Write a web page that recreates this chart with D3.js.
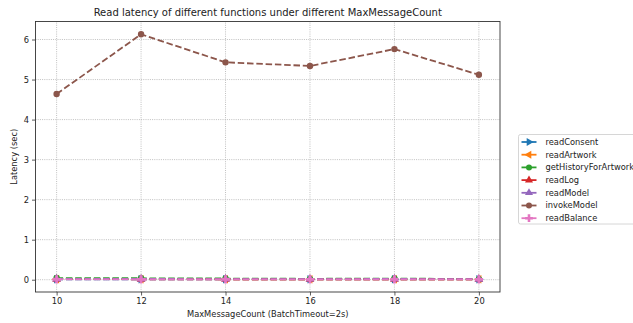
<!DOCTYPE html>
<html>
<head>
<meta charset="utf-8">
<script src="https://cdn.jsdelivr.net/npm/d3@7"></script>
<style>
  body { margin: 0; background: #fff; }
  text { font-family: "DejaVu Sans", sans-serif; fill: #222; }
</style>
</head>
<body>
<div id="chart"></div>
<script>
// data
var batchSizes = [10, 12, 14, 16, 18, 20];
var seriesNames = ["readConsent", "readArtwork", "getHistoryForArtwork", "readLog", "readModel", "invokeModel", "readBalance"];
var readConsent = [0.012, 0.011, 0.010, 0.010, 0.011, 0.010];
var readArtwork = [0.014, 0.013, 0.012, 0.011, 0.012, 0.011];
var getHistoryForArtwork = [0.042, 0.036, 0.030, 0.022, 0.030, 0.014];
var readLog = [0.013, 0.012, 0.011, 0.010, 0.012, 0.010];
var readModel = [0.020, 0.018, 0.016, 0.015, 0.018, 0.014];
var invokeModel = [4.64, 6.13, 5.43, 5.34, 5.76, 5.12];
var readBalance = [0.010, 0.010, 0.009, 0.009, 0.010, 0.009];
var yTicks = [0, 1, 2, 3, 4, 5, 6];

var colours = ["#1f77b4", "#ff7f0e", "#2ca02c", "#d62728", "#9467bd", "#8c564b", "#e377c2"];
var markers = ["right", "left", "circle", "up", "up", "circle", "plus"];
var allValues = [readConsent, readArtwork, getHistoryForArtwork, readLog, readModel, invokeModel, readBalance];

var width = 633, height = 323;
var margin = {left: 35.5, right: 133, top: 21.5, bottom: 31};

var svg = d3.select("#chart").append("svg")
  .attr("width", width).attr("height", height);

var x = d3.scaleLinear().domain([9.5, 20.5]).range([margin.left, width - margin.right]);
var y = d3.scaleLinear().domain([-0.307, 6.45]).range([height - margin.bottom, margin.top]);

// grid
svg.append("g").selectAll("line").data(batchSizes).enter().append("line")
  .attr("x1", function(d) { return x(d); }).attr("x2", function(d) { return x(d); })
  .attr("y1", y.range()[0]).attr("y2", y.range()[1])
  .attr("stroke", "#b0b0b0").attr("stroke-width", 0.8).attr("stroke-dasharray", "1,1.2");
svg.append("g").selectAll("line").data(yTicks).enter().append("line")
  .attr("y1", function(d) { return y(d); }).attr("y2", function(d) { return y(d); })
  .attr("x1", x.range()[0]).attr("x2", x.range()[1])
  .attr("stroke", "#b0b0b0").attr("stroke-width", 0.8).attr("stroke-dasharray", "1,1.2");

// axes
var xAxis = svg.append("g").attr("transform", "translate(0," + (height - margin.bottom) + ")")
  .call(d3.axisBottom(x).tickValues(batchSizes).tickFormat(d3.format("d")).tickSize(3.5).tickPadding(3));
var yAxis = svg.append("g").attr("transform", "translate(" + margin.left + ",0)")
  .call(d3.axisLeft(y).tickValues(yTicks).tickFormat(d3.format("d")).tickSize(3.5).tickPadding(3));
[xAxis, yAxis].forEach(function(a) {
  a.select(".domain").remove();
  a.selectAll("line").attr("stroke", "#333").attr("stroke-width", 0.8);
  a.selectAll("text").style("font-size", "8.3px").attr("fill", "#222");
});

// frame
svg.append("rect")
  .attr("x", x.range()[0]).attr("y", y.range()[1])
  .attr("width", x.range()[1] - x.range()[0]).attr("height", y.range()[0] - y.range()[1])
  .attr("fill", "none").attr("stroke", "#333").attr("stroke-width", 0.9);

function markerPath(kind, size) {
  if (kind == "circle") return d3.symbol(d3.symbolCircle, size)();
  if (kind == "plus") return d3.symbol(d3.symbolCross, size * 1.2)();
  return d3.symbol(d3.symbolTriangle, size)();
}
function markerRotate(kind) {
  if (kind == "right") return 90;
  if (kind == "left") return -90;
  return 0;
}

var line = d3.line()
  .x(function(d, i) { return x(batchSizes[i]); })
  .y(function(d) { return y(d); });

allValues.forEach(function(vals, s) {
  var g = svg.append("g");
  g.append("path").attr("d", line(vals))
    .attr("fill", "none").attr("stroke", colours[s])
    .attr("stroke-width", 1.8).attr("stroke-dasharray", "6.5,2.8");
  g.selectAll("path.mk").data(vals).enter().append("path")
    .attr("class", "mk")
    .attr("d", markerPath(markers[s], 32))
    .attr("fill", colours[s])
    .attr("transform", function(d, i) {
      return "translate(" + x(batchSizes[i]) + "," + y(d) + ") rotate(" + markerRotate(markers[s]) + ")";
    });
});

// title and axis labels
svg.append("text").attr("x", (x.range()[0] + x.range()[1]) / 2).attr("y", 16)
  .attr("text-anchor", "middle").style("font-size", "10px")
  .text("Read latency of different functions under different MaxMessageCount");
svg.append("text").attr("x", (x.range()[0] + x.range()[1]) / 2).attr("y", 317)
  .attr("text-anchor", "middle").style("font-size", "8.3px")
  .text("MaxMessageCount (BatchTimeout=2s)");
svg.append("text")
  .attr("transform", "translate(17," + ((y.range()[0] + y.range()[1]) / 2) + ") rotate(-90)")
  .attr("text-anchor", "middle").style("font-size", "8.3px")
  .text("Latency (sec)");

// legend
var legend = svg.append("g").attr("transform", "translate(518.5,134.5)");
legend.append("rect").attr("width", 130).attr("height", 89.5)
  .attr("rx", 2).attr("fill", "#fff").attr("stroke", "#ccc").attr("stroke-width", 0.8);
var item = legend.selectAll("g.item").data(seriesNames).enter().append("g")
  .attr("class", "item")
  .attr("transform", function(d, i) { return "translate(0," + (7.5 + i * 12.7) + ")"; });
item.append("line").attr("x1", 3).attr("x2", 18)
  .attr("stroke", function(d, i) { return colours[i]; }).attr("stroke-width", 1.8);
item.append("path")
  .attr("d", function(d, i) { return markerPath(markers[i], 28); })
  .attr("fill", function(d, i) { return colours[i]; })
  .attr("transform", function(d, i) { return "translate(10.5,0) rotate(" + markerRotate(markers[i]) + ")"; });
item.append("text").attr("x", 27).attr("dy", "0.35em")
  .style("font-size", "8.3px").text(function(d) { return d; });
</script>
</body>
</html>
